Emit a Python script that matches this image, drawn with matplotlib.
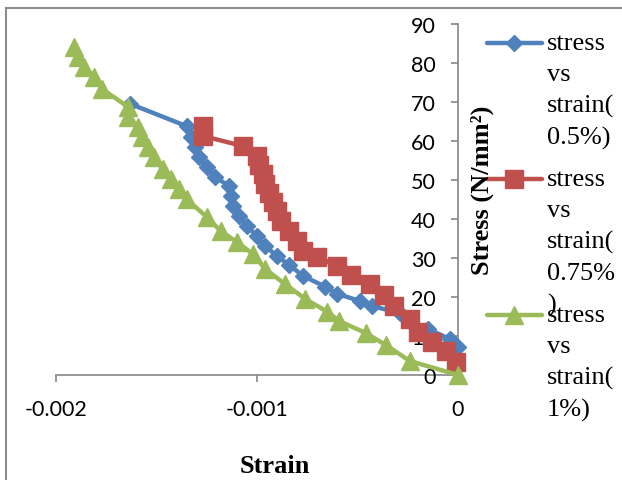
import matplotlib
matplotlib.use("Agg")
import matplotlib.pyplot as plt
from matplotlib.lines import Line2D

# stress vs strain
STRAIN_05 = [-0.00163, -0.00135, -0.00133, -0.00131, -0.00129, -0.00125, -0.00121,
             -0.00114, -0.00113, -0.00112, -0.00109, -0.00105, -0.00100, -0.00096,
             -0.00090, -0.00084, -0.00077, -0.00066, -0.00060, -0.00049, -0.00043,
             -0.00029, -0.00024, -0.00015, -0.00004, 0.0]
STRESS_05 = [69.5, 63.8, 61.0, 58.5, 55.9, 53.3, 50.8, 48.5, 45.9, 43.3, 40.8, 38.2,
             35.6, 33.1, 30.5, 28.2, 25.4, 22.6, 20.8, 19.0, 17.7, 15.9, 13.8, 11.8,
             9.2, 7.2]

STRAIN_075 = [-0.00127, -0.00127, -0.00107, -0.00100, -0.00099, -0.00097, -0.00096,
              -0.00094, -0.00092, -0.00090, -0.00088, -0.00084, -0.00080, -0.00077,
              -0.00070, -0.00060, -0.00053, -0.00044, -0.00037, -0.00032, -0.00024,
              -0.00020, -0.00013, -0.00006, -0.00001]
STRESS_075 = [63.8, 61.3, 58.7, 56.2, 53.8, 51.5, 49.0, 46.7, 44.4, 42.0, 39.5, 36.9,
              34.4, 31.8, 30.3, 27.9, 25.6, 23.3, 20.5, 17.7, 14.4, 11.0, 8.5, 6.2, 3.3]

STRAIN_1 = [-0.00191, -0.00189, -0.00186, -0.00181, -0.00177, -0.00164, -0.00164,
            -0.00159, -0.00157, -0.00154, -0.00151, -0.00147, -0.00143, -0.00139,
            -0.00135, -0.00125, -0.00118, -0.00110, -0.00102, -0.00096, -0.00086,
            -0.00076, -0.00065, -0.00059, -0.00046, -0.00036, -0.00024, 0.0]
STRESS_1 = [84.1, 81.5, 79.0, 76.4, 73.3, 68.7, 66.2, 63.6, 61.0, 58.5, 55.9, 52.8,
            50.3, 47.7, 45.1, 40.5, 36.9, 34.1, 31.0, 27.2, 23.3, 19.5, 16.2, 13.8,
            10.8, 7.7, 3.6, 0.0]

LABELS = ["stress\nvs\nstrain(\n0.5%)", "stress\nvs\nstrain(\n0.75%\n)", "stress\nvs\nstrain(\n1%)"]
X_TICKS = [-0.002, -0.001, 0.0]
X_TICK_LABELS = ["-0.002", "-0.001", "0"]
Y_TICKS = list(range(0, 100, 10))

COLORS = ["#4F81BD", "#C0504D", "#9BBB59"]
MARKERS = [("D", 8.5), ("s", 12.5), ("^", 13.5)]
AXIS_GRAY = "#868686"

W, H = 622, 481


def fx(px):
    return px / W


def fy(py):
    return 1 - py / H


fig = plt.figure(figsize=(W / 100, H / 100), dpi=100)
ax = fig.add_axes([fx(56), fy(376), (458 - 56) / W, (376 - 25) / H])

series = [(STRAIN_05, STRESS_05), (STRAIN_075, STRESS_075), (STRAIN_1, STRESS_1)]
for (xs, ys), c, (m, ms) in zip(series, COLORS, MARKERS):
    ax.plot(xs, ys, color=c, lw=3.2, marker=m, ms=ms, mfc=c, mec=c, clip_on=False)

ax.set_xlim(-0.002, 0)
ax.set_ylim(0, 90)
ax.set_xticks(X_TICKS)
ax.set_xticklabels(X_TICK_LABELS)
ax.set_yticks(Y_TICKS)

ax.spines["top"].set_visible(False)
ax.spines["right"].set_visible(False)
ax.spines["left"].set_position(("data", 0))
for s in ("left", "bottom"):
    ax.spines[s].set_color(AXIS_GRAY)
    ax.spines[s].set_linewidth(1.2)
    ax.spines[s].set_zorder(0.5)

ax.tick_params(axis="both", direction="out", length=5, width=1.2, color=AXIS_GRAY,
               labelsize=15.5)
ax.tick_params(axis="y", pad=11)
ax.tick_params(axis="x", pad=12)
for t in ax.get_xticklabels() + ax.get_yticklabels():
    t.set_family("Lato")

fig.text(fx(275), fy(473), "Strain", ha="center", va="baseline",
         family="Liberation Serif", weight="bold", size=19)
fig.text(fx(482), fy(190), "Stress (N/mm²)", rotation=90, ha="center", va="center",
         family="Liberation Serif", weight="bold", size=19)

# legend drawn by hand: handle aligned with first line of each wrapped label
for i, (lab, c, (m, ms)) in enumerate(zip(LABELS, COLORS, MARKERS)):
    yh = 44 + 136 * i
    fig.add_artist(Line2D([fx(487), fx(514), fx(542)], [fy(yh)] * 3,
                          color=c, lw=3.2, marker=m, ms=ms, mfc=c, mec=c,
                          markevery=[1], solid_capstyle="round"))
    fig.text(fx(547), fy(yh - 11), lab, ha="left", va="top",
             family="Liberation Serif", size=19, linespacing=1.52)

# outer frame (only top and left edges visible in the picture)
fig.add_artist(Line2D([fx(6), fx(6)], [0, fy(9)], color="#8c8c8c", lw=1.5))
fig.add_artist(Line2D([fx(6), 1], [fy(9), fy(9)], color="#8c8c8c", lw=1.5))

fig.savefig("out.png", dpi=100)
